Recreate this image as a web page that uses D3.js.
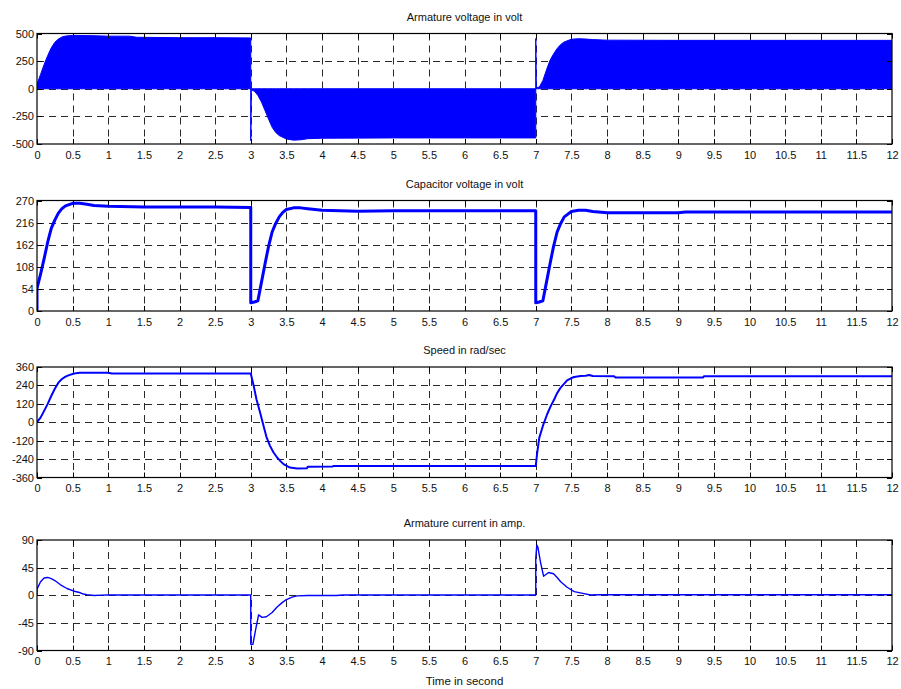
<!DOCTYPE html>
<html>
<head>
<meta charset="utf-8">
<script src="https://cdn.jsdelivr.net/npm/d3@7"></script>
<style>
  html, body { margin: 0; padding: 0; background: #fff; }
  svg { display: block; }
  text { font-family: "Liberation Sans", Arial, sans-serif; fill: #111; }
</style>
</head>
<body>
<svg id="chart" width="901" height="689"></svg>
<script>
// ---------- data ----------
const xTicks = d3.range(0, 12.01, 0.5);

const titles = ["Armature voltage in volt", "Capacitor voltage in volt", "Speed in rad/sec", "Armature current in amp."];
const xLabel = "Time in second";

const yTicksVa = [-500, -250, 0, 250, 500];
const yTicksVc = [0, 54, 108, 162, 216, 270];
const yTicksSp = [-360, -240, -120, 0, 120, 240, 360];
const yTicksIa = [-90, -45, 0, 45, 90];

// armature voltage envelope (PWM band drawn from 0 to envelope)
const armatureVoltage = [
  [0,0],[0.005,50],[0.05,130],[0.1,220],[0.15,300],[0.2,370],[0.25,420],[0.3,450],[0.35,468],[0.4,477],
  [0.5,483],[0.8,480],[1.0,476],[1.3,476],[1.4,466],[2.0,462],[2.5,462],[3.0,460],
  [3.0,-470],[3.008,-10],[3.05,-22],[3.1,-60],[3.15,-120],[3.2,-197],[3.25,-275],[3.3,-349],[3.35,-395],
  [3.4,-424],[3.5,-455],[3.6,-465],[3.7,-462],[3.8,-452],[4.0,-448],[5,-445],[6,-445],[7.0,-445],
  [7.0,455],[7.008,10],[7.05,15],[7.1,75],[7.15,170],[7.2,257],[7.25,315],[7.3,364],[7.35,400],[7.4,424],
  [7.5,448],[7.6,453],[7.7,450],[7.8,445],[8,440],[9,438],[12,438]
];

const capacitorVoltage = [
  [0,0],[0.0,55],[0.05,90],[0.1,128],[0.15,168],[0.2,202],[0.25,222],[0.3,239],[0.35,250],[0.4,257],
  [0.5,263],[0.6,263],[0.7,261],[0.8,258],[1.0,256],[1.5,254],[2.5,254],[3.0,253],
  [3.0,20],[3.05,22],[3.1,25],[3.15,70],[3.2,115],[3.25,158],[3.3,193],[3.35,214],[3.4,230],[3.45,241],
  [3.5,248],[3.6,252],[3.7,252],[3.8,250],[4.0,246],[4.5,244],[5,245],[7,245],
  [7,20],[7.05,22],[7.1,25],[7.15,70],[7.2,115],[7.25,158],[7.3,193],[7.35,214],[7.4,230],[7.5,243],
  [7.6,246],[7.7,246],[7.8,243],[8,240],[9,240],[9.1,242],[12,242]
];

const speed = [
  [0,0],[0.05,30],[0.1,74],[0.15,120],[0.2,171],[0.25,218],[0.3,258],[0.35,282],[0.4,297],[0.45,307],
  [0.5,314],[0.55,320],[0.6,322],[1.0,322],[1.05,317],[3.0,317],
  [3.04,240],[3.08,150],[3.13,65],[3.18,-24],[3.22,-95],[3.27,-154],[3.32,-197],[3.37,-230],[3.42,-255],
  [3.46,-273],[3.55,-295],[3.65,-301],[3.79,-299],[3.8,-290],[4.15,-289],[4.16,-285],[7.0,-285],
  [7.02,-200],[7.05,-100],[7.1,-24],[7.16,52],[7.21,105],[7.26,150],[7.3,190],[7.35,226],[7.4,252],
  [7.44,273],[7.5,288],[7.54,295],[7.63,301],[7.7,303],[7.75,308],[7.8,301],[8.1,300],[8.12,292],
  [9.35,292],[9.36,300],[12,300]
];

const armatureCurrent = [
  [0,0],[0.0,10],[0.05,22],[0.1,28],[0.15,29],[0.2,27],[0.25,24],[0.33,17],[0.42,11],[0.51,7],
  [0.61,4],[0.65,2],[0.7,1],[0.8,-0.5],[0.9,0.2],[1.0,0.5],[3.0,0.5],
  [3.0,-80],[3.03,-80],[3.07,-55],[3.11,-32],[3.16,-36],[3.22,-35],[3.3,-28],[3.37,-19],[3.44,-12],
  [3.5,-7],[3.58,-3],[3.65,-1],[3.8,-0.5],[4.2,-0.5],[4.3,0.3],[7.0,0.3],
  [7.0,60],[7.015,82],[7.03,78],[7.07,52],[7.11,31],[7.18,37],[7.25,35],[7.3,29],[7.35,22],[7.44,13],
  [7.54,6],[7.66,3],[7.77,0.5],[7.9,0.8],[12,0.8]
];

// ---------- layout ----------
const svg = d3.select("#chart");
const left = 37, right = 892;
const panelTop = [33.5, 200.5, 367, 540];
const panelH = 110.5;
const blue = "#0000ff";

const x = d3.scaleLinear().domain([0, 12]).range([left, right]);

const panels = [
  { title: titles[0], ticks: yTicksVa, data: armatureVoltage, kind: "area", width: 1 },
  { title: titles[1], ticks: yTicksVc, data: capacitorVoltage, kind: "line", width: 3 },
  { title: titles[2], ticks: yTicksSp, data: speed, kind: "line", width: 2 },
  { title: titles[3], ticks: yTicksIa, data: armatureCurrent, kind: "line", width: 1.4 }
];

panels.forEach((p, i) => {
  const top = panelTop[i], bottom = top + panelH;
  const y = d3.scaleLinear().domain([p.ticks[0], p.ticks[p.ticks.length - 1]]).range([bottom, top]);
  const g = svg.append("g");

  svg.append("clipPath").attr("id", "clip" + i)
    .append("rect").attr("x", left).attr("y", top).attr("width", right - left).attr("height", panelH);

  // grid
  const grid = g.append("g").attr("stroke", "#2a2a2a").attr("stroke-width", 1).attr("stroke-dasharray", "7,5");
  grid.selectAll("line.vx").data(xTicks.slice(1, -1)).join("line")
    .attr("x1", d => Math.round(x(d)) + 0.5).attr("x2", d => Math.round(x(d)) + 0.5)
    .attr("y1", top).attr("y2", bottom);
  grid.selectAll("line.hy").data(p.ticks.slice(1, -1)).join("line")
    .attr("class", "hy")
    .attr("x1", left).attr("x2", right)
    .attr("y1", d => Math.round(y(d)) + 0.5).attr("y2", d => Math.round(y(d)) + 0.5);

  // data
  const dg = g.append("g").attr("clip-path", `url(#clip${i})`);
  if (p.kind === "area") {
    const area = d3.area().x(d => x(d[0])).y0(y(0)).y1(d => y(d[1]));
    dg.append("path").datum(p.data).attr("d", area)
      .attr("fill", blue).attr("stroke", blue).attr("stroke-width", 1);
  } else {
    const line = d3.line().x(d => x(d[0])).y(d => y(d[1]));
    dg.append("path").datum(p.data).attr("d", line)
      .attr("fill", "none").attr("stroke", blue).attr("stroke-width", p.width)
      .attr("stroke-linejoin", "round");
  }

  // ticks inward
  const tk = g.append("g").attr("stroke", "#000").attr("stroke-width", 1);
  xTicks.forEach(d => {
    const xx = Math.round(x(d)) + 0.5;
    tk.append("line").attr("x1", xx).attr("x2", xx).attr("y1", bottom).attr("y2", bottom - 5);
    tk.append("line").attr("x1", xx).attr("x2", xx).attr("y1", top).attr("y2", top + 5);
  });
  p.ticks.forEach(d => {
    const yy = Math.round(y(d)) + 0.5;
    tk.append("line").attr("x1", left).attr("x2", left + 5).attr("y1", yy).attr("y2", yy);
    tk.append("line").attr("x1", right).attr("x2", right - 5).attr("y1", yy).attr("y2", yy);
  });

  // box
  g.append("rect").attr("x", left).attr("y", top).attr("width", right - left).attr("height", panelH)
    .attr("fill", "none").attr("stroke", "#000").attr("stroke-width", 1.2);

  // axes labels via d3 axes
  const xa = d3.axisBottom(x).tickValues(xTicks).tickSize(0).tickPadding(7).tickFormat(d => String(d));
  const xg = g.append("g").attr("transform", `translate(0,${bottom})`).call(xa);
  xg.select(".domain").remove();
  xg.selectAll("text").attr("font-size", 11).attr("font-family", "Liberation Sans, Arial, sans-serif").attr("fill", "#111");

  const ya = d3.axisLeft(y).tickValues(p.ticks).tickSize(0).tickPadding(3).tickFormat(d => String(d));
  const yg = g.append("g").attr("transform", `translate(${left},0)`).call(ya);
  yg.select(".domain").remove();
  yg.selectAll("text").attr("font-size", 11).attr("font-family", "Liberation Sans, Arial, sans-serif").attr("fill", "#111");

  // title
  g.append("text").attr("x", (left + right) / 2).attr("y", top - 13)
    .attr("text-anchor", "middle").attr("font-size", 11).text(p.title);
});

svg.append("text").attr("x", (left + right) / 2).attr("y", 685)
  .attr("text-anchor", "middle").attr("font-size", 11.5).text(xLabel);
</script>
</body>
</html>
